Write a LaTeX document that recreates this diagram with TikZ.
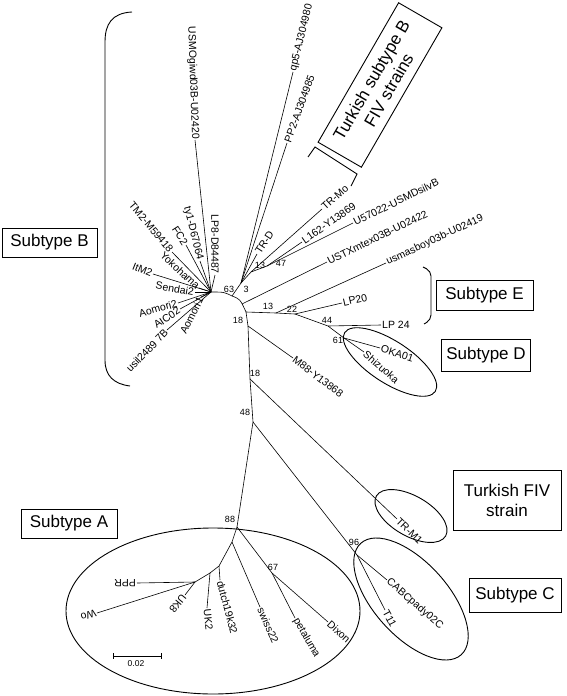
\documentclass[tikz,border=0pt]{standalone}
\usepackage{fontspec}
\setmainfont{Liberation Sans}
\begin{document}
\begin{tikzpicture}[x=1pt,y=-1pt,
  branch/.style={line width=0.6pt},
  frame/.style={line width=0.9pt},
  lab/.style={font=\fontsize{10.5}{12}\selectfont, inner sep=1pt},
  bsv/.style={font=\fontsize{9}{10}\selectfont, inner sep=0pt},
  box/.style={draw, line width=0.9pt, font=\fontsize{17}{20}\selectfont, align=center, inner sep=0pt},
  outl/.style={lab, anchor=west},
  inl/.style={lab, anchor=east}]
\useasboundingbox (0,0) rectangle (567,696);
\fill[white] (0,0) rectangle (567,696);

% ---------- internal nodes ----------
\coordinate (HB) at (211,292);
\coordinate (N63) at (232,296);
\coordinate (NU) at (242,304);
\coordinate (NJ) at (246,312);
\coordinate (NM) at (248,326);
\coordinate (N18) at (250,379);
\coordinate (N48) at (253,422);
\coordinate (N88) at (237,527);
\coordinate (N96) at (357,555);
\coordinate (N67) at (272,573);
\coordinate (NA1) at (232,542);
\coordinate (NA2) at (219,566);
\coordinate (NA3) at (210,573);
\coordinate (NA4) at (195,582);
\coordinate (N13) at (276,313);
\coordinate (N22) at (295,314);
\coordinate (N44) at (328,326);
\coordinate (N61) at (344,338);
\coordinate (N3) at (241,283);
\coordinate (N13t) at (251,272);
\coordinate (N47) at (267,266);

% ---------- leaf ends ----------
\coordinate (LUSMO) at (195,140);
\coordinate (Lty1) at (200,261);
\coordinate (LLP8) at (215,275);
\coordinate (LFC2) at (186,245);
\coordinate (LTM2) at (172,252);
\coordinate (LYok) at (199,288);
\coordinate (LItM2) at (153,274);
\coordinate (LSen) at (195,292);
\coordinate (LAom2) at (178,303);
\coordinate (LAIC) at (180,309);
\coordinate (LAom1) at (201,297);
\coordinate (Lusil) at (167,330);
\coordinate (Lqp5) at (293,72);
\coordinate (LPP2) at (287,143);
\coordinate (LTRD) at (257,254);
\coordinate (LTRMo) at (322,209);
\coordinate (LL162) at (302,242);
\coordinate (LU57) at (353,223);
\coordinate (LUSTX) at (327,262);
\coordinate (Lusmas) at (386,263);
\coordinate (LLP20) at (342,303);
\coordinate (LLP24) at (381,325);
\coordinate (LOKA) at (380,348);
\coordinate (LShi) at (364,352);
\coordinate (LM88) at (293,358);
\coordinate (LTRM1) at (397,519);
\coordinate (LCAB) at (387,580);
\coordinate (LT11) at (385,610);
\coordinate (LDix) at (328,622);
\coordinate (LPet) at (295,618);
\coordinate (Lswi) at (260,607);
\coordinate (Ldut) at (220,580);
\coordinate (LUK2) at (207,608);
\coordinate (LUK8) at (185,595);
\coordinate (LPPR) at (137,583);
\coordinate (LWo) at (97,613);

% ---------- backbone ----------
\draw[branch] (HB) .. controls (224,292) .. (N63) .. controls (240,299) .. (NJ);
\draw[branch] (NJ) -- (NM) -- (N18) -- (N48) -- (N88);
\draw[branch] (NJ) -- (N13) -- (N22) -- (N44) -- (N61);
\draw[branch] (N63) -- (N3) -- (N13t) -- (N47);
\draw[branch] (N48) -- (N96);
\draw[branch] (N88) -- (NA1) -- (NA2) -- (NA3) -- (NA4);
\draw[branch] (N88) -- (N67);

% ---------- B cluster ----------
\draw[branch] (HB) -- (LUSMO);
\draw[branch] (HB) -- (Lty1);
\draw[branch] (HB) -- (LLP8);
\draw[branch] (HB) -- (LFC2);
\draw[branch] (HB) -- (LTM2);
\draw[branch] (HB) -- (LYok);
\draw[branch] (HB) -- (LItM2);
\draw[branch] (HB) -- (LSen);
\draw[branch] (HB) -- (LAom2);
\draw[branch] (HB) -- (LAIC);
\draw[branch] (HB) -- (LAom1);
\draw[branch] (HB) -- (Lusil);
\node[inl, rotate=-88] (tUSMO) at (LUSMO) {USMOgiwd03B-U02420};
\node[inl, rotate=-76] (tty1) at (Lty1) {ty1-D67064};
\node[inl, rotate=-90] (tLP8) at (LLP8) {LP8-D84487};
\node[inl, rotate=-57] (tFC2) at (LFC2) {FC2};
\node[inl, rotate=-50] (tTM2) at (LTM2) {TM2-M59418};
\node[inl, rotate=-43] (tYok) at (LYok) {Yokohama};
\node[inl, rotate=-22] (tItM2) at (LItM2) {ItM2};
\node[inl, rotate=-10] (tSen) at (LSen) {Sendai2};
\node[inl, rotate=15] (tAom2) at (LAom2) {Aomori2};
\node[inl, rotate=34] (tAIC) at (LAIC) {AIC02};
\node[inl, rotate=63] (tAom1) at (LAom1) {Aomori1};
\node[inl, rotate=46] (tusil) at (Lusil) {usil2489 7B};

% ---------- upper cluster ----------
\draw[branch] (N3) -- (Lqp5);
\draw[branch] (N3) -- (LPP2);
\draw[branch] (N3) -- (LTRD);
\draw[branch] (N13t) -- (LTRMo);
\draw[branch] (N47) -- (LL162);
\draw[branch] (N47) -- (LU57);
\draw[branch] (NU) -- (LUSTX);
\draw[branch] (N13) -- (Lusmas);
\draw[branch] (N22) -- (LLP20);
\draw[branch] (N44) -- (LLP24);
\draw[branch] (N61) -- (LOKA);
\draw[branch] (N61) -- (LShi);
\draw[branch] (NM) -- (LM88);
\draw[branch] (N18) -- (LTRM1);
\draw[branch] (N96) -- (LCAB);
\draw[branch] (N96) -- (LT11);
\node[outl, rotate=76] (tqp5) at (Lqp5) {qp5-AJ304980};
\node[outl, rotate=70] (tPP2) at (LPP2) {PP2-AJ304985};
\node[outl, rotate=57] (tTRD) at (LTRD) {TR-D};
\node[outl, rotate=42] (tTRMo) at (LTRMo) {TR-Mo};
\node[outl, rotate=35] (tL162) at (LL162) {L162-Y13869};
\node[outl, rotate=26] (tU57) at (LU57) {U57022-USMDsilvB};
\node[outl, rotate=26] (tUSTX) at (LUSTX) {USTXmtex03B-U02422};
\node[outl, rotate=25] (tusmas) at (Lusmas) {usmasboy03b-U02419};
\node[outl, rotate=13] (tLP20) at (LLP20) {LP20};
\node[outl] (tLP24) at (LLP24) {LP 24};
\node[outl, rotate=-18] (tOKA) at (LOKA) {OKA01};
\node[outl, rotate=-41] (tShi) at (LShi) {Shizuoka};
\node[outl, rotate=-37] (tM88) at (LM88) {M88-Y13868};
\node[outl, rotate=-44] (tTRM1) at (LTRM1) {TR-M1};
\node[outl, rotate=-41] (tCAB) at (LCAB) {CABCpady02C};
\node[outl, rotate=-62] (tT11) at (LT11) {T11};

% ---------- A cluster ----------
\draw[branch] (N67) -- (LDix);
\draw[branch] (N67) -- (LPet);
\draw[branch] (NA1) -- (Lswi);
\draw[branch] (NA2) -- (Ldut);
\draw[branch] (NA3) -- (LUK2);
\draw[branch] (NA4) -- (LUK8);
\draw[branch] (NA4) -- (LPPR);
\draw[branch] (NA4) -- (LWo);
\node[outl, rotate=-42] (tDix) at (LDix) {Dixon};
\node[outl, rotate=-60] (tPet) at (LPet) {petaluma};
\node[outl, rotate=-66] (tswi) at (Lswi) {swiss22};
\node[outl, rotate=-75] (tdut) at (Ldut) {dutch19k32};
\node[outl, rotate=-84] (tUK2) at (LUK2) {UK2};
\node[outl, rotate=231] (tUK8) at (LUK8) {UK8};
\node[outl, rotate=180] (tPPR) at (LPPR) {PPR};
\node[outl, rotate=197] (tWo) at (LWo) {Wo};

% ---------- bootstrap values ----------
\node[bsv] (b63) at (229,289) {63};
\node[bsv] (b3) at (246,289) {3};
\node[bsv] (b13t) at (260,265) {13};
\node[bsv] (b47) at (281,263) {47};
\node[bsv] (b18a) at (238,320) {18};
\node[bsv] (b13) at (268,306) {13};
\node[bsv] (b22) at (292,309) {22};
\node[bsv] (b44) at (327,320) {44};
\node[bsv] (b61) at (338,340) {61};
\node[bsv] (b18b) at (255,373) {18};
\node[bsv] (b48) at (245,412) {48};
\node[bsv] (b88) at (230,519) {88};
\node[bsv] (b96) at (354,542) {96};
\node[bsv] (b67) at (273,567) {67};

% ---------- groupings ----------
\draw[frame] (132,12) .. controls (112,13) and (105,24) .. (105,42) -- (105,360) .. controls (105,376) and (114,384) .. (130,386);
\draw[frame] (308,157) -- (315,147) -- (357,174) -- (351,186);
\draw[frame, rounded corners=5pt] (423,267) -- (431,271) -- (431,320) -- (424,324);
\draw[frame] (213,611) ellipse [x radius=147, y radius=83];
\draw[frame, rotate around={-33:(390,362)}] (390,362) ellipse [x radius=54, y radius=21];
\draw[frame, rotate around={-30:(411,516)}] (411,516) ellipse [x radius=40, y radius=20];
\draw[frame, rotate around={-48:(411,599)}] (411,599) ellipse [x radius=75, y radius=37];

% ---------- boxes ----------
\node[box, minimum width=95pt, minimum height=29pt] (boxB) at (49.5,242.5) {Subtype B};
\node[box, rotate=60, minimum width=161pt, minimum height=50pt] (boxTB) at (380,85) {Turkish subtype B\\FIV strains};
\node[box, minimum width=97pt, minimum height=30pt] (boxE) at (484.5,295) {Subtype E};
\node[box, minimum width=89pt, minimum height=32pt] (boxD) at (486,355) {Subtype D};
\node[box, minimum width=108pt, minimum height=60pt] (boxTF) at (507,500) {Turkish FIV\\strain};
\node[box, minimum width=92pt, minimum height=34pt] (boxC) at (515,595) {Subtype C};
\node[box, minimum width=96pt, minimum height=29pt] (boxA) at (69,523.5) {Subtype A};

% ---------- scale bar ----------
\coordinate (S1) at (113,656);
\coordinate (S2) at (161,656);
\draw[line width=0.8pt] (S1) -- (S2);
\draw[line width=0.8pt] ([yshift=3pt]S1) -- ([yshift=-3pt]S1);
\draw[line width=0.8pt] ([yshift=3pt]S2) -- ([yshift=-3pt]S2);
\node[font=\fontsize{8.5}{10}\selectfont, inner sep=0pt] (sbl) at (136,664) {0.02};
\end{tikzpicture}
\end{document}
